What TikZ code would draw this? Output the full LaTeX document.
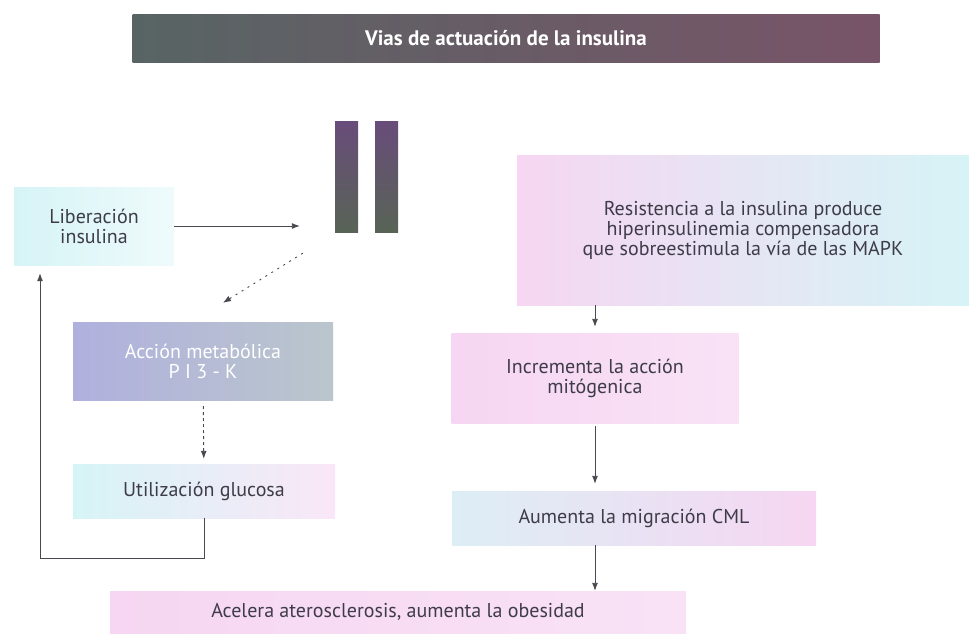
\documentclass[tikz,border=0pt]{standalone}
\usepackage{fontspec}
\setmainfont{PT Sans}
\usepackage{tikz}
\usetikzlibrary{positioning,arrows.meta,calc}
\definecolor{barg}{RGB}{88,100,100}
\definecolor{barp}{RGB}{96,74,96}
\definecolor{barm}{RGB}{120,84,104}
\definecolor{rcpt}{RGB}{104,76,122}
\definecolor{rcpm}{RGB}{70,104,120}
\definecolor{rcpb}{RGB}{88,100,86}
\definecolor{pk}{RGB}{246,214,242}
\definecolor{cy}{RGB}{214,244,246}
\definecolor{lav}{RGB}{176,176,222}
\definecolor{mauve}{RGB}{206,178,222}
\definecolor{slate}{RGB}{186,198,204}
\definecolor{txtc}{RGB}{62,60,72}
\definecolor{lnc}{RGB}{72,72,78}
\tikzset{
	every node/.style = { align = center },
	hdr/.style = { rectangle, inner sep=0pt, text=white, left color=barg, middle color=barp, right color=barm,
		font=\bfseries\fontsize{21}{23}\selectfont },
	rcp/.style = { rectangle, inner sep=0pt, minimum width=23pt, minimum height=111pt,
		top color=rcpt, middle color=rcpm, bottom color=rcpb },
	pale/.style = { rectangle, inner sep=0pt, text=txtc, font=\fontsize{20}{20}\selectfont },
	dark/.style = { pale, text=white, left color=lav, middle color=mauve, right color=slate },
	lnk/.style = { draw=lnc, line width=0.9pt },
}

\begin{document}
\begin{tikzpicture}[x=1pt, y={(0,-1pt)}, >={Latex[length=8pt,width=6pt]}]
\useasboundingbox (0,0) rectangle (969,633);

\node (title) [hdr,minimum width=747pt,minimum height=48pt] at (506,38) {Vias de actuación de la insulina};

% receptor
\node (rl) [rcp] at (346.5,176.5) {};
\node (rr) [rcp] at (386.5,176.5) {};

% left branch
\node (lib) [pale,minimum width=160pt,minimum height=78pt,left color=cy,middle color=pk,right color=cy!40!white] at (94,226) {Liberación\\insulina};
\node (met) [dark,minimum width=260pt,minimum height=78pt] at (203,361) {Acción metabólica\\P I 3 - K};
\node (glu) [pale,minimum width=262pt,minimum height=54pt,left color=cy,middle color=cy!40!white,right color=pk!60!white] at (204,491) {Utilización glucosa};

% right branch
\node (res) [pale,minimum width=452pt,minimum height=150pt,left color=pk,middle color=pk!40!white,right color=cy] at (743,230) {Resistencia a la insulina produce\\hiperinsulinemia compensadora\\que sobreestimula la vía de las MAPK};
\node (inc) [pale,minimum width=287pt,minimum height=90pt,left color=pk,middle color=cy!70!white,right color=pk!70!white] at (595,378) {Incrementa la acción\\mitógenica};
\node (mig) [pale,minimum width=364pt,minimum height=54pt,left color=cy!80!pk,middle color=pk!60!white,right color=pk] at (634,518) {Aumenta la migración CML};
\node (acel) [pale,minimum width=576pt,minimum height=42pt,left color=pk,middle color=cy,right color=pk!70!white] at (398,612) {Acelera aterosclerosis, aumenta la obesidad};

\coordinate (recin)  at ($(rl.west |- lib)+(-35,0)$);
\coordinate (recout) at ($(rl.south west)+(-32,21)$);
\coordinate (metin)  at ($(met.north)+(20,-19)$);
\coordinate (fbk)    at (40,558);

\draw[lnk,->] (lib) -- (recin);
\draw[lnk,->,dash pattern=on 2pt off 5pt] (recout) -- (metin);
\draw[lnk,->,dash pattern=on 3pt off 3pt,shorten <=6pt,shorten >=5pt] (met) -- (glu);
\draw[lnk,->,shorten >=8pt] (glu.south) |- (fbk) -- (fbk |- lib.south);

\draw[lnk,->,shorten >=6pt] (res.south -| inc) -- (inc.north);
\draw[lnk,->,shorten <=3pt,shorten >=7pt] (inc.south) -- (inc.south |- mig.north);
\draw[lnk,->] (mig.south -| inc) -- (inc |- acel.north);

\end{tikzpicture}
\end{document}
